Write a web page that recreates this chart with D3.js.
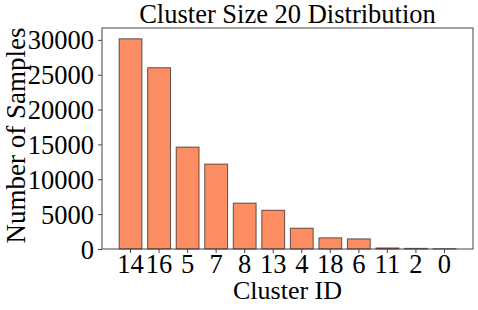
<!DOCTYPE html>
<html>
<head>
<meta charset="utf-8">
<script src="https://cdn.jsdelivr.net/npm/d3@7"></script>
<style>
  body { margin: 0; background: #fff; }
  svg text { font-family: "Liberation Serif", "Times New Roman", serif; fill: #000; }
</style>
</head>
<body>
<svg id="chart" width="478" height="310"></svg>
<script>
// cluster ids, sorted by sample count
var clusterIds = ["14", "16", "5", "7", "8", "13", "4", "18", "6", "11", "2", "0"];
var sampleCounts = [30150, 26000, 14620, 12180, 6580, 5560, 2980, 1600, 1450, 150, 90, 40];
var yTicks = [0, 5000, 10000, 15000, 20000, 25000, 30000];

var svg = d3.select("#chart"),
    margin = {top: 28, right: 5, bottom: 61, left: 102},
    width = +svg.attr("width") - margin.left - margin.right,
    height = +svg.attr("height") - margin.top - margin.bottom,
    g = svg.append("g").attr("transform", "translate(" + margin.left + "," + margin.top + ")");

var x = d3.scaleBand()
    .domain(clusterIds)
    .range([0, width])
    .paddingInner(0.2)
    .paddingOuter(0.6);

var y = d3.scaleLinear()
    .domain([0, 31700])
    .range([height, 0]);

// bars
g.selectAll(".bar")
    .data(clusterIds)
    .enter().append("rect")
    .attr("class", "bar")
    .attr("x", function(d){ return x(d); })
    .attr("width", x.bandwidth())
    .attr("y", function(d, i){ return y(sampleCounts[i]); })
    .attr("height", function(d, i){ return height - y(sampleCounts[i]); })
    .attr("fill", "#fc8d62")
    .attr("stroke", "#000")
    .attr("stroke-opacity", 0.6)
    .attr("stroke-width", 1);

// axes
var xAxis = g.append("g")
    .attr("transform", "translate(0," + height + ")")
    .call(d3.axisBottom(x).tickSize(4).tickPadding(1));

var yAxis = g.append("g")
    .call(d3.axisLeft(y).tickValues(yTicks).tickFormat(d3.format("d")).tickSize(4).tickPadding(4));

[xAxis, yAxis].forEach(function(a){
    a.select(".domain").remove();
    a.selectAll("line").attr("stroke", "#444");
    a.selectAll("text")
        .style("font-size", "26.5px")
        .style("font-family", "Liberation Serif, serif");
});
yAxis.selectAll("text").attr("dy", "0.34em");

// frame
g.append("rect")
    .attr("width", width)
    .attr("height", height)
    .attr("fill", "none")
    .attr("stroke", "#444")
    .attr("stroke-width", 1);

// labels
svg.append("text")
    .attr("x", margin.left + width / 2)
    .attr("y", 23)
    .attr("text-anchor", "middle")
    .style("font-size", "26.5px")
    .text("Cluster Size 20 Distribution");

svg.append("text")
    .attr("x", margin.left + width / 2)
    .attr("y", 299)
    .attr("text-anchor", "middle")
    .style("font-size", "26px")
    .text("Cluster ID");

svg.append("text")
    .attr("transform", "translate(25," + (margin.top + height / 2 - 3) + ") rotate(-90)")
    .attr("text-anchor", "middle")
    .style("font-size", "27px")
    .text("Number of Samples");
</script>
</body>
</html>
